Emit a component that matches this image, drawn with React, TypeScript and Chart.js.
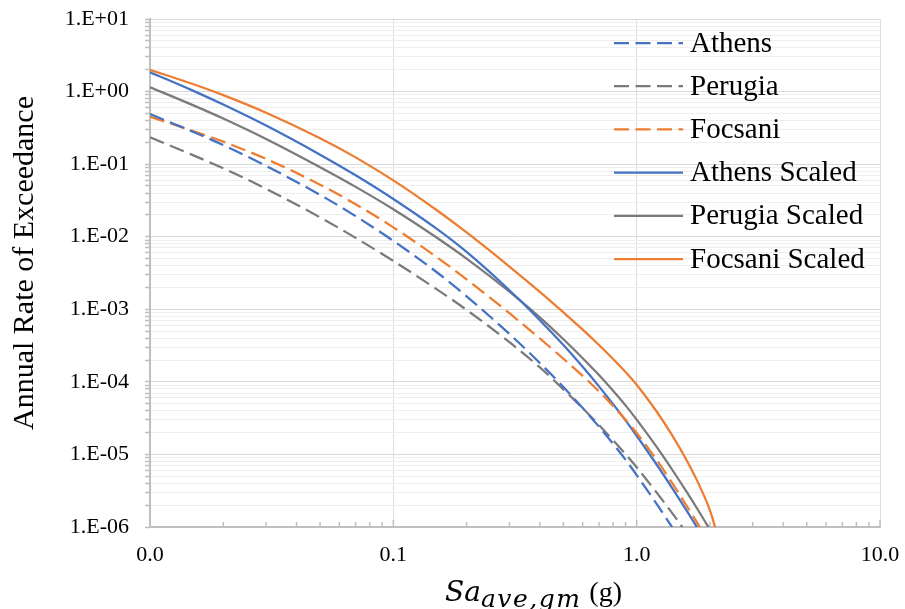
import React, { useEffect, useRef } from 'react';
import { Chart, registerables } from 'chart.js';

Chart.register(...registerables);

// Spectral acceleration grid (g)
const saValues = [0.01, 0.015, 0.02, 0.03, 0.05, 0.07, 0.1, 0.15, 0.2, 0.3, 0.4, 0.5, 0.6, 0.7, 0.8, 0.9, 1.0, 1.2, 1.4, 1.6, 1.8, 2.0, 2.1, 2.2];

// Annual rate of exceedance per series
const athens = [0.49, 0.28, 0.183, 0.0946, 0.0377, 0.0192, 0.00877, 0.00329, 0.00151, 4.57e-4, 1.82e-4, 8.47e-5, 4.37e-5, 2.41e-5, 1.4e-5, 8.47e-6, 5.2e-6, 2.15e-6, 9.9e-7, 4.93e-7, null, null, null, null];
const perugia = [0.234, 0.133, 0.0877, 0.0458, 0.01845, 0.00964, 0.00463, 0.00191, 9.8e-4, 3.53e-4, 1.58e-4, 7.89e-5, 4.33e-5, 2.54e-5, 1.57e-5, 1.01e-5, 6.65e-6, 3.07e-6, 1.55e-6, 8.4e-7, 4.9e-7, null, null, null];
const focsani = [0.45, 0.287, 0.204, 0.118, 0.0521, 0.028, 0.01346, 0.0053, 0.00258, 8.83e-4, 3.96e-4, 2.08e-4, 1.21e-4, 7.38e-5, 4.66e-5, 3.01e-5, 1.97e-5, 8.7e-6, 4.03e-6, 1.99e-6, 1.05e-6, 5.8e-7, null, null];
const athensScaled = [1.85, 1.03, 0.662, 0.34, 0.135, 0.0702, 0.0331, 0.013, 0.00617, 0.00183, 7.08e-4, 3.21e-4, 1.61e-4, 8.67e-5, 4.94e-5, 2.95e-5, 1.81e-5, 7.5e-6, 3.44e-6, 1.71e-6, 9.06e-7, 5.1e-7, null, null];
const perugiaScaled = [1.15, 0.65, 0.425, 0.222, 0.0906, 0.0486, 0.0239, 0.00982, 0.00499, 0.00175, 7.73e-4, 3.86e-4, 2.12e-4, 1.24e-4, 7.53e-5, 4.74e-5, 3.02e-5, 1.31e-5, 6.15e-6, 3.09e-6, 1.65e-6, 9.2e-7, 7.0e-7, 5.4e-7];
const focsaniScaled = [2.0, 1.27, 0.893, 0.511, 0.2275, 0.124, 0.0597, 0.0235, 0.01146, 0.00388, 0.001734, 9.04e-4, 5.24e-4, 3.22e-4, 2.07e-4, 1.37e-4, 9.14e-5, 4.03e-5, 1.83e-5, 8.45e-6, 3.89e-6, 1.7e-6, 1.0e-6, 5.2e-7];

const seriesLabels = ['Athens', 'Perugia', 'Focsani', 'Athens Scaled', 'Perugia Scaled', 'Focsani Scaled'];
const seriesValues = [athens, perugia, focsani, athensScaled, perugiaScaled, focsaniScaled];
const seriesColors = ['#4472C4', '#7A7A7A', '#ED7D31', '#4472C4', '#7A7A7A', '#ED7D31'];
const seriesDashed = [true, true, true, false, false, false];

const xTickValues = [0.01, 0.1, 1, 10];
const xTickLabels = ['0.0', '0.1', '1.0', '10.0'];
const yTickValues = [1e-6, 1e-5, 1e-4, 1e-3, 1e-2, 1e-1, 1, 10];
const yTickLabels = ['1.E-06', '1.E-05', '1.E-04', '1.E-03', '1.E-02', '1.E-01', '1.E+00', '1.E+01'];
const minorSteps = [1, 2, 3, 4, 5, 6, 7, 8, 9];

const yAxisTitle = 'Annual Rate of Exceedance';
const xTitleMain = 'Sa';
const xTitleSub = 'ave,gm';
const xTitleUnit = '(g)';

const SERIF = '"Liberation Serif", "Times New Roman", serif';
const DASH = [15, 6.5];

const near = (a: number, b: number) => Math.abs(a - b) <= Math.abs(b) * 1e-6;
const labelFor = (value: number, values: number[], labels: string[]) => {
  const i = values.findIndex((v) => near(value, v));
  return i >= 0 ? labels[i] : '';
};

const zeroPadding = (scale: any) => {
  scale.paddingLeft = 0;
  scale.paddingRight = 0;
  scale.paddingTop = 0;
  scale.paddingBottom = 0;
};

const overlayPlugin = {
  id: 'overlay',
  afterDraw(chart: any) {
    const ctx = chart.ctx as CanvasRenderingContext2D;
    const xs = chart.scales.x;
    const area = chart.chartArea;
    ctx.save();

    // inner tick marks on the x axis
    ctx.strokeStyle = '#BFBFBF';
    ctx.lineWidth = 1.5;
    ctx.setLineDash([]);
    for (let d = 0; d < xTickValues.length - 1; d++) {
      for (const m of minorSteps) {
        const px = xs.getPixelForValue(xTickValues[d] * m);
        const len = m === 1 ? 7 : 5;
        ctx.beginPath();
        ctx.moveTo(px, area.bottom);
        ctx.lineTo(px, area.bottom - len);
        ctx.stroke();
      }
    }
    const lastPx = xs.getPixelForValue(xTickValues[xTickValues.length - 1]);
    ctx.beginPath();
    ctx.moveTo(lastPx, area.bottom);
    ctx.lineTo(lastPx, area.bottom - 7);
    ctx.stroke();

    // legend inside the plot area
    const lx0 = 614;
    const lx1 = 683;
    const ly0 = 43;
    const lstep = 43.2;
    chart.data.datasets.forEach((ds: any, i: number) => {
      const y = ly0 + i * lstep;
      ctx.strokeStyle = ds.borderColor;
      ctx.lineWidth = ds.borderWidth;
      ctx.setLineDash(ds.borderDash || []);
      ctx.beginPath();
      ctx.moveTo(lx0, y);
      ctx.lineTo(lx1, y);
      ctx.stroke();
      ctx.setLineDash([]);
      ctx.fillStyle = '#000';
      ctx.font = `29px ${SERIF}`;
      ctx.textAlign = 'left';
      ctx.textBaseline = 'middle';
      ctx.fillText(ds.label, 690, y + 1);
    });

    // y axis title
    ctx.save();
    ctx.translate(33, 263);
    ctx.rotate(-Math.PI / 2);
    ctx.fillStyle = '#000';
    ctx.font = `30px ${SERIF}`;
    ctx.textAlign = 'center';
    ctx.textBaseline = 'alphabetic';
    ctx.fillText(yAxisTitle, 0, 0);
    ctx.restore();

    // x axis title with subscript
    ctx.fillStyle = '#000';
    ctx.textAlign = 'left';
    ctx.textBaseline = 'alphabetic';
    let x = 445;
    ctx.font = 'italic 28px "DejaVu Serif"';
    ctx.fillText(xTitleMain, x, 601);
    x += ctx.measureText(xTitleMain).width;
    ctx.font = 'italic 25px "DejaVu Serif"';
    for (const ch of xTitleSub) {
      ctx.fillText(ch, x, 607);
      x += ctx.measureText(ch).width + 1.5;
    }
    ctx.font = `28px ${SERIF}`;
    ctx.fillText(xTitleUnit, x + 8, 601);

    ctx.restore();
  },
};

export default function App() {
  const canvasRef = useRef<HTMLCanvasElement | null>(null);

  useEffect(() => {
    const canvas = canvasRef.current;
    if (!canvas) return;
    const datasets = seriesLabels.map((label, i) => ({
      label,
      data: saValues.map((x, j) => ({ x, y: seriesValues[i][j] })),
      borderColor: seriesColors[i],
      backgroundColor: seriesColors[i],
      borderWidth: 2.25,
      borderDash: seriesDashed[i] ? DASH : [],
      pointRadius: 0,
      fill: false,
      cubicInterpolationMode: 'monotone' as const,
      spanGaps: false,
      clip: 0,
    }));

    const chart = new Chart(canvas, {
      type: 'line',
      data: { datasets },
      plugins: [overlayPlugin],
      options: {
        responsive: false,
        animation: false,
        devicePixelRatio: 1,
        layout: { padding: { left: 0, right: 25, top: 19, bottom: 0 } },
        plugins: {
          legend: { display: false },
          tooltip: { enabled: false },
          title: { display: false },
        },
        scales: {
          x: {
            type: 'logarithmic',
            min: 0.01,
            max: 10,
            afterBuildTicks: (scale: any) => {
              scale.ticks = xTickValues.map((v) => ({ value: v }));
            },
            afterFit: (scale: any) => {
              scale.height = 82;
              zeroPadding(scale);
            },
            ticks: {
              autoSkip: false,
              maxRotation: 0,
              minRotation: 0,
              padding: 15,
              color: '#000',
              font: { family: SERIF, size: 22 },
              callback: (value: any) => labelFor(Number(value), xTickValues, xTickLabels),
            },
            grid: { color: '#DDDDDD', lineWidth: 1, drawTicks: false },
            border: { display: true, color: '#BFBFBF', width: 2 },
          },
          y: {
            type: 'logarithmic',
            min: 1e-6,
            max: 10,
            afterBuildTicks: (scale: any) => {
              const t: { value: number }[] = [];
              yTickValues.forEach((v, i) => {
                if (i === yTickValues.length - 1) {
                  t.push({ value: v });
                } else {
                  minorSteps.forEach((m) => t.push({ value: v * m }));
                }
              });
              scale.ticks = t;
            },
            afterFit: (scale: any) => {
              scale.width = 150;
              zeroPadding(scale);
            },
            ticks: {
              autoSkip: false,
              padding: 16,
              color: '#000',
              font: { family: SERIF, size: 22 },
              callback: (value: any) => labelFor(Number(value), yTickValues, yTickLabels),
            },
            grid: {
              color: (c: any) => {
                const v = c.tick ? c.tick.value : 1;
                return yTickValues.some((p) => near(v, p)) ? '#D9D9D9' : '#EEEEEE';
              },
              lineWidth: 1,
              drawTicks: true,
              tickLength: 5,
              tickColor: '#BFBFBF',
              tickWidth: 1.5,
            },
            border: { display: true, color: '#BFBFBF', width: 2 },
          },
        },
      } as any,
    });

    return () => {
      chart.destroy();
    };
  }, []);

  return (
    <div style={{ position: 'absolute', left: 0, top: 0, width: 905, height: 609, background: '#fff' }}>
      <canvas ref={canvasRef} width={905} height={609} style={{ display: 'block' }} />
    </div>
  );
}
